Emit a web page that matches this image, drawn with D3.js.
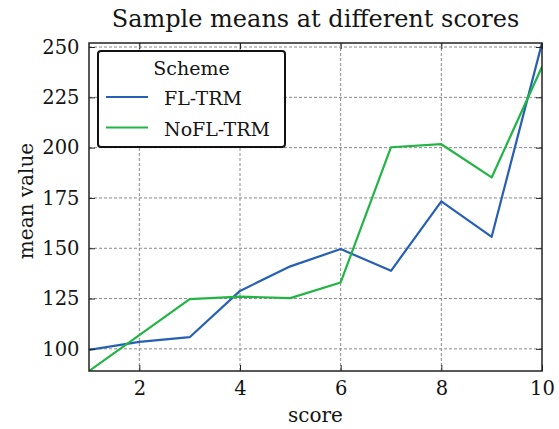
<!DOCTYPE html>
<html>
<head>
<meta charset="utf-8">
<script src="https://cdn.jsdelivr.net/npm/d3@7"></script>
<style>
  body { margin: 0; background: #fff; }
  text { font-family: "DejaVu Serif", serif; fill: #151515; }
</style>
</head>
<body>
<script>
const scores = [1, 2, 3, 4, 5, 6, 7, 8, 9, 10]
const flTrm = [99.5, 103.5, 105.8, 128.8, 141, 149.6, 138.8, 173.3, 155.7, 252]
const noFlTrm = [89, 106.8, 124.7, 126, 125.2, 133, 200.2, 201.7, 185.2, 240.2]
const xTicks = [2, 4, 6, 8, 10]
const yTicks = [100, 125, 150, 175, 200, 225, 250]
const seriesNames = ['FL-TRM', 'NoFL-TRM']

const W = 559, H = 429
const M = { top: 43, right: 17, bottom: 58, left: 89 }
const colors = ['#2660b5', '#22b545']

const svg = d3.select('body').append('svg')
  .attr('width', W)
  .attr('height', H)

const x = d3.scaleLinear()
  .domain(d3.extent(scores))
  .range([M.left, W - M.right])

const y = d3.scaleLinear()
  .domain([d3.min(noFlTrm), d3.max(flTrm)])
  .range([H - M.bottom, M.top])

const xMinor = d3.range(1, 10.01, 0.5)
const yMinor = d3.range(90, 252, 5)

// grid
const grid = svg.append('g')
  .attr('stroke', '#8a8a8a')
  .attr('stroke-width', 1)
  .attr('stroke-dasharray', '3,2')
grid.selectAll('.gx').data(xTicks.filter(d => d < 10)).enter().append('line')
  .attr('x1', d => x(d)).attr('x2', d => x(d))
  .attr('y1', M.top).attr('y2', H - M.bottom)
grid.selectAll('.gy').data(yTicks).enter().append('line')
  .attr('y1', d => y(d)).attr('y2', d => y(d))
  .attr('x1', M.left).attr('x2', W - M.right)

// lines
const series = [flTrm, noFlTrm]
const line = d3.line()
  .x((d, i) => x(scores[i]))
  .y(d => y(d))

svg.append('defs').append('clipPath').attr('id', 'clip')
  .append('rect')
  .attr('x', M.left).attr('y', M.top)
  .attr('width', W - M.left - M.right)
  .attr('height', H - M.top - M.bottom)

svg.append('g').attr('clip-path', 'url(#clip)')
  .selectAll('path')
  .data(series)
  .enter()
  .append('path')
  .attr('d', line)
  .attr('fill', 'none')
  .attr('stroke', (d, i) => colors[i])
  .attr('stroke-width', 2.2)
  .attr('stroke-linejoin', 'round')

// axes, ticks inward on all sides
const gBottom = svg.append('g').attr('transform', `translate(0, ${H - M.bottom})`)
const gTop = svg.append('g').attr('transform', `translate(0, ${M.top})`)
const gLeft = svg.append('g').attr('transform', `translate(${M.left}, 0)`)
const gRight = svg.append('g').attr('transform', `translate(${W - M.right}, 0)`)

gBottom.call(d3.axisBottom(x).tickValues(xMinor).tickSize(-3).tickFormat(''))
gBottom.call(d3.axisBottom(x).tickValues(xTicks).tickSize(-6).tickPadding(10).tickFormat(d3.format('d')))
gTop.call(d3.axisTop(x).tickValues(xMinor).tickSize(-3).tickFormat(''))
gTop.call(d3.axisTop(x).tickValues(xTicks).tickSize(-6).tickFormat(''))
gLeft.call(d3.axisLeft(y).tickValues(yMinor).tickSize(-3).tickFormat(''))
gLeft.call(d3.axisLeft(y).tickValues(yTicks).tickSize(-6).tickPadding(9.5).tickFormat(d3.format('d')))
gRight.call(d3.axisRight(y).tickValues(yMinor).tickSize(-3).tickFormat(''))
gRight.call(d3.axisRight(y).tickValues(yTicks).tickSize(-6).tickFormat(''))

svg.selectAll('.domain').remove()
svg.selectAll('.tick line').attr('stroke', '#222').attr('stroke-width', 1)
svg.selectAll('.tick text')
  .attr('font-family', '"DejaVu Serif", serif')
  .attr('font-size', 19.5)
  .attr('fill', '#151515')

svg.append('rect')
  .attr('x', M.left).attr('y', M.top)
  .attr('width', W - M.left - M.right)
  .attr('height', H - M.top - M.bottom)
  .attr('fill', 'none')
  .attr('stroke', '#222')
  .attr('stroke-width', 1.5)

// labels
svg.append('text')
  .attr('x', (M.left + W - M.right) / 2)
  .attr('y', 27)
  .attr('text-anchor', 'middle')
  .attr('font-size', 24)
  .text('Sample means at different scores')

svg.append('text')
  .attr('x', (M.left + W - M.right) / 2)
  .attr('y', 422)
  .attr('text-anchor', 'middle')
  .attr('font-size', 20)
  .text('score')

svg.append('text')
  .attr('transform', `translate(33, 201) rotate(-90)`)
  .attr('text-anchor', 'middle')
  .attr('font-size', 20)
  .text('mean value')

// legend
const lg = svg.append('g').attr('transform', 'translate(98, 51)')
lg.append('rect')
  .attr('width', 187).attr('height', 96)
  .attr('rx', 3)
  .attr('fill', '#fff')
  .attr('stroke', '#111')
  .attr('stroke-width', 2)
lg.append('text')
  .attr('x', 93.5).attr('y', 24)
  .attr('text-anchor', 'middle')
  .attr('font-size', 19)
  .text('Scheme')
const items = lg.selectAll('.item')
  .data(seriesNames)
  .enter()
  .append('g')
  .attr('transform', (d, i) => `translate(0, ${46 + i * 30.5})`)
items.append('line')
  .attr('x1', 8).attr('x2', 50)
  .attr('stroke', (d, i) => colors[i])
  .attr('stroke-width', 2.2)
items.append('text')
  .attr('x', 66).attr('y', 8)
  .attr('font-size', 19)
  .text(d => d)
</script>
</body>
</html>
